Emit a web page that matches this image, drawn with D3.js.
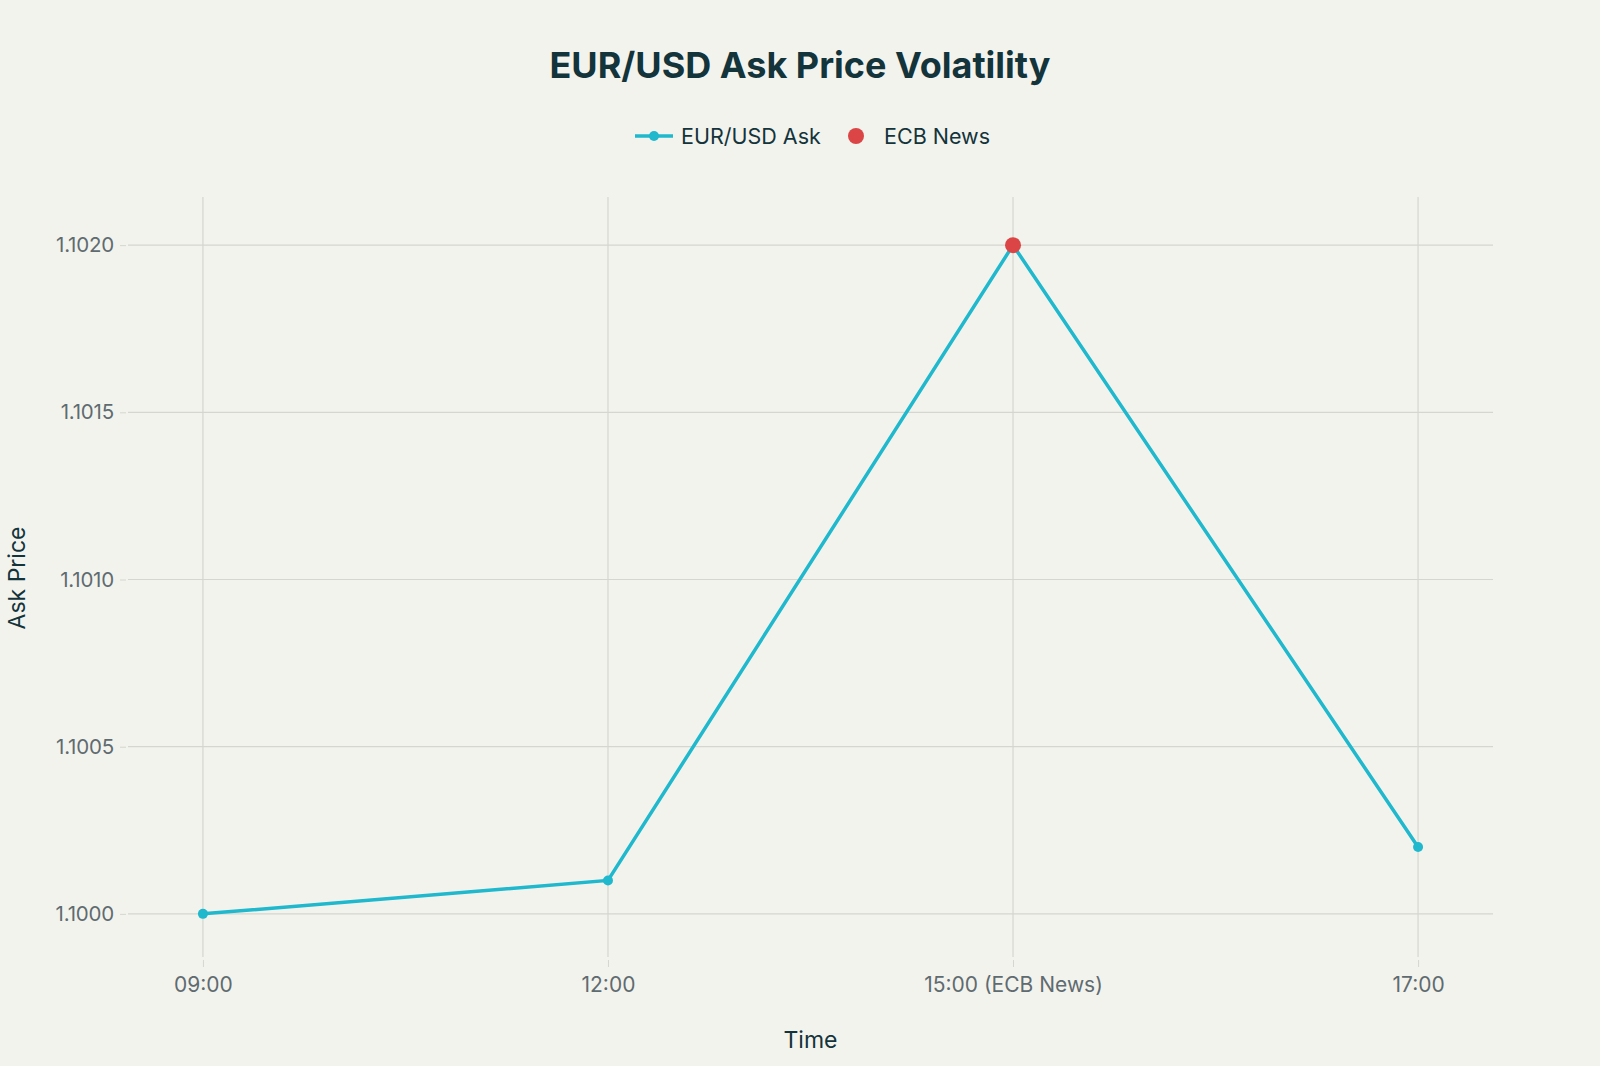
<!DOCTYPE html>
<html><head><meta charset="utf-8">
<script src="https://cdn.jsdelivr.net/npm/d3@7"></script>
<style>
html,body{margin:0;padding:0;background:#F3F3EE;}
svg{display:block;font-family:Inter,"Liberation Sans",sans-serif;}
</style></head>
<body><svg id="c" width="1600" height="1066"></svg>
<script>
const categories = ["09:00","12:00","15:00 (ECB News)","17:00"];
const askValues = [1.1000, 1.1001, 1.1020, 1.1002];
const newsCategories = ["15:00 (ECB News)"];
const newsValues = [1.1020];
const yTicks = [1.1000, 1.1005, 1.1010, 1.1015, 1.1020];

const W=1600,H=1066;
const m={left:128,right:1493,top:197,bottom:957};
const svg=d3.select("#c");
svg.append("rect").attr("width",W).attr("height",H).attr("fill","#F3F3EE");

const x=d3.scalePoint().domain(categories).range([m.left,m.right]).padding(0.185);
const y=d3.scaleLinear().domain([1.099871,1.102144]).range([m.bottom,m.top]);

const grid="#D6D6D0";
const FONT='Inter,"Liberation Sans",sans-serif';
// gridlines
svg.append("g").selectAll("line").data(yTicks).join("line")
  .attr("x1",m.left).attr("x2",m.right).attr("y1",d=>y(d)).attr("y2",d=>y(d))
  .attr("stroke",grid).attr("stroke-width",1.2);
svg.append("g").selectAll("line").data(categories).join("line")
  .attr("x1",d=>x(d)).attr("x2",d=>x(d)).attr("y1",m.top).attr("y2",m.bottom)
  .attr("stroke",grid).attr("stroke-width",1.2);

// axes
const yAxis=d3.axisLeft(y).tickValues(yTicks).tickFormat(d3.format(".4f")).tickSize(6).tickPadding(6);
const gy=svg.append("g").attr("transform",`translate(${m.left-2},0)`).call(yAxis).attr("font-family",FONT);
gy.select(".domain").remove();
gy.selectAll(".tick line").attr("stroke",grid);
gy.selectAll(".tick text").attr("fill","#5F6B70").attr("font-size",20.5).attr("letter-spacing",-0.2);

const xAxis=d3.axisBottom(x).tickSize(7).tickPadding(10);
const gx=svg.append("g").attr("transform",`translate(0,${m.bottom+3})`).call(xAxis).attr("font-family",FONT);
gx.select(".domain").remove();
gx.selectAll(".tick line").attr("stroke",grid);
gx.selectAll(".tick text").attr("fill","#5F6B70").attr("font-size",21);

// line
const line=d3.line().x((d,i)=>x(categories[i])).y(d=>y(d));
svg.append("path").datum(askValues).attr("d",line).attr("fill","none")
  .attr("stroke","#1FB8CD").attr("stroke-width",3.5);
svg.append("g").selectAll("circle").data(askValues).join("circle")
  .attr("cx",(d,i)=>x(categories[i])).attr("cy",d=>y(d)).attr("r",5).attr("fill","#1FB8CD");
svg.append("g").selectAll("circle").data(newsValues).join("circle")
  .attr("cx",(d,i)=>x(newsCategories[i])).attr("cy",d=>y(d)).attr("r",8).attr("fill","#DB4545");

// titles
svg.append("text").attr("x",800).attr("y",78).attr("text-anchor","middle")
  .attr("font-size",36).attr("font-weight",700).attr("fill","#13343B").text("EUR/USD Ask Price Volatility");
svg.append("text").attr("x",(m.left+m.right)/2).attr("y",1048).attr("text-anchor","middle")
  .attr("font-size",23).attr("fill","#13343B").text("Time");
svg.append("text").attr("transform",`translate(25,578) rotate(-90)`).attr("text-anchor","middle")
  .attr("font-size",23).attr("fill","#13343B").text("Ask Price");

// legend
const lg=svg.append("g");
lg.append("line").attr("x1",635).attr("x2",673).attr("y1",136).attr("y2",136).attr("stroke","#1FB8CD").attr("stroke-width",3.5);
lg.append("circle").attr("cx",654).attr("cy",136).attr("r",5).attr("fill","#1FB8CD");
lg.append("text").attr("x",681).attr("y",144).attr("font-size",21.5).attr("fill","#13343B").text("EUR/USD Ask");
lg.append("circle").attr("cx",856).attr("cy",136).attr("r",8).attr("fill","#DB4545");
lg.append("text").attr("x",884).attr("y",144).attr("font-size",21.5).attr("fill","#13343B").text("ECB News");
</script></body></html>
